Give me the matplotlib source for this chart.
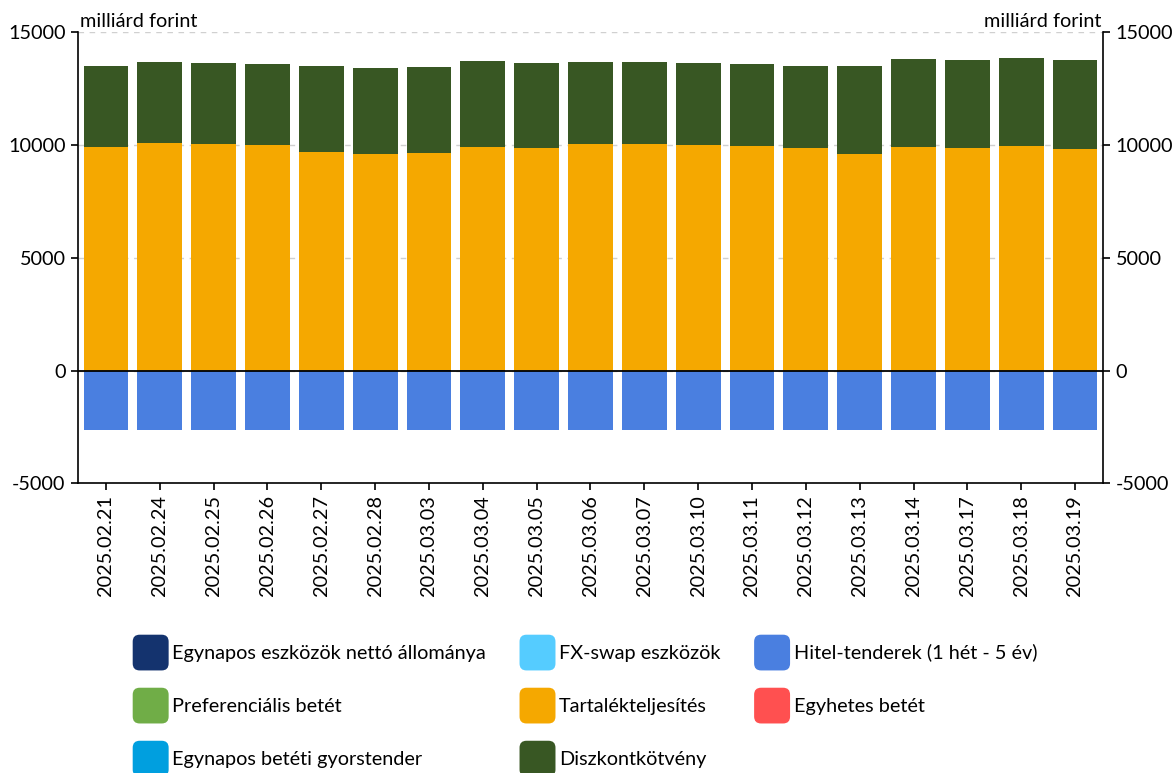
import matplotlib
matplotlib.use("Agg")
import matplotlib.pyplot as plt
from matplotlib.patches import FancyBboxPatch
from matplotlib.legend_handler import HandlerPatch
import matplotlib.patches as mpatches
import numpy as np

plt.rcParams['font.family'] = ['Lato', 'DejaVu Sans']

dates = ["2025.02.21", "2025.02.24", "2025.02.25", "2025.02.26", "2025.02.27",
         "2025.02.28", "2025.03.03", "2025.03.04", "2025.03.05", "2025.03.06",
         "2025.03.07", "2025.03.10", "2025.03.11", "2025.03.12", "2025.03.13",
         "2025.03.14", "2025.03.17", "2025.03.18", "2025.03.19"]

egynapos_netto = [0, 0, 0, 0, 0, 0, 40, 40, 0, 0, 0, 0, 0, 0, 0, 0, 0, 0, 0]
fx_swap = [0] * 19
hitel_tenderek = [-2650] * 19
preferencialis = [0] * 19
tartalek = [9900, 10075, 10060, 9985, 9705, 9590, 9620, 9870, 9855, 10045,
            10030, 9985, 9945, 9870, 9590, 9900, 9885, 9955, 9840]
egyhetes = [0] * 19
egynapos_betet = [0] * 19
diszkont = [3600, 3600, 3585, 3600, 3820, 3805, 3820, 3810, 3805, 3645,
            3645, 3660, 3655, 3655, 3910, 3910, 3895, 3910, 3910]

series = [
    ("Egynapos eszközök nettó állománya", egynapos_netto, "#14336E"),
    ("FX-swap eszközök", fx_swap, "#55CCFF"),
    ("Hitel-tenderek (1 hét - 5 év)", hitel_tenderek, "#4A7FE0"),
    ("Preferenciális betét", preferencialis, "#70AD47"),
    ("Tartalékteljesítés", tartalek, "#F5A800"),
    ("Egyhetes betét", egyhetes, "#FF5050"),
    ("Egynapos betéti gyorstender", egynapos_betet, "#009FDF"),
    ("Diszkontkötvény", diszkont, "#385723"),
]

FS = 14.3

fig = plt.figure(figsize=(11.74, 7.73), dpi=100)
ax = fig.add_axes([78/1174, 1-483.3/773, (1103-78)/1174, (483.3-32.3)/773])

x = np.arange(len(dates))
pos_base = np.zeros(len(dates))
neg_base = np.zeros(len(dates))
width = 0.835
handles = {}
for name, vals, col in series:
    v = np.array(vals, dtype=float)
    bottoms = np.where(v >= 0, pos_base, neg_base)
    ax.bar(x, v, width, bottom=bottoms, color=col, edgecolor='none', zorder=3)
    pos_base = pos_base + np.where(v > 0, v, 0)
    neg_base = neg_base + np.where(v < 0, v, 0)
    handles[name] = mpatches.Patch(facecolor=col, label=name)

ax.axhline(0, color='black', linewidth=1.3, zorder=4)
ax.set_xlim(-0.52, len(dates) - 0.48)
ax.set_ylim(-5000, 15000)
ax.set_yticks([-5000, 0, 5000, 10000, 15000])
ax.set_yticklabels(["-5000", "0", "5000", "10000", "15000"])
ax.set_xticks(x)
ax.set_xticklabels(dates, rotation=90)
ax.tick_params(axis='both', labelsize=FS, length=5, color='black', width=1.2)
ax.tick_params(axis='y', pad=4)
ax.yaxis.grid(True, linestyle=(0, (4, 4)), color='#d0d0d0', linewidth=1, zorder=0)
ax.set_axisbelow(True)
ax.spines['top'].set_visible(False)
ax.spines['right'].set_visible(False)
ax.spines['left'].set_linewidth(1.2)
ax.spines['bottom'].set_linewidth(1.2)

ax2 = ax.twinx()
ax2.set_ylim(-5000, 15000)
ax2.set_yticks([-5000, 0, 5000, 10000, 15000])
ax2.set_yticklabels(["-5000", "0", "5000", "10000", "15000"])
ax2.tick_params(axis='y', labelsize=FS, length=5, width=1.2, pad=4)
for s in ['top', 'left', 'bottom']:
    ax2.spines[s].set_visible(False)
ax2.spines['right'].set_linewidth(1.2)

ax.text(0.002, 1.005, "milliárd forint", transform=ax.transAxes, ha='left', va='bottom', fontsize=FS)
ax.text(0.998, 1.005, "milliárd forint", transform=ax.transAxes, ha='right', va='bottom', fontsize=FS)


class RoundHandler(HandlerPatch):
    def create_artists(self, legend, orig_handle, xdescent, ydescent, width, height, fontsize, trans):
        p = FancyBboxPatch((-xdescent + 0.5, -ydescent + 0.5), width - 1, height - 1,
                           boxstyle="round,pad=0,rounding_size=5",
                           facecolor=orig_handle.get_facecolor(), edgecolor='none',
                           transform=trans)
        return [p]


order = ["Egynapos eszközök nettó állománya", "Preferenciális betét", "Egynapos betéti gyorstender",
         "FX-swap eszközök", "Tartalékteljesítés", "Diszkontkötvény",
         "Hitel-tenderek (1 hét - 5 év)", "Egyhetes betét"]
hl = [handles[n] for n in order]
fig.legend(hl, order, loc='upper left', bbox_to_anchor=(132/1174, 1-634/773),
           ncol=3, frameon=False, fontsize=FS, handlelength=1.88, handleheight=2.5,
           handletextpad=0.15, labelspacing=0.8, columnspacing=1.65,
           borderpad=0, borderaxespad=0,
           handler_map={mpatches.Patch: RoundHandler()})

fig.savefig("out.png", dpi=100)
